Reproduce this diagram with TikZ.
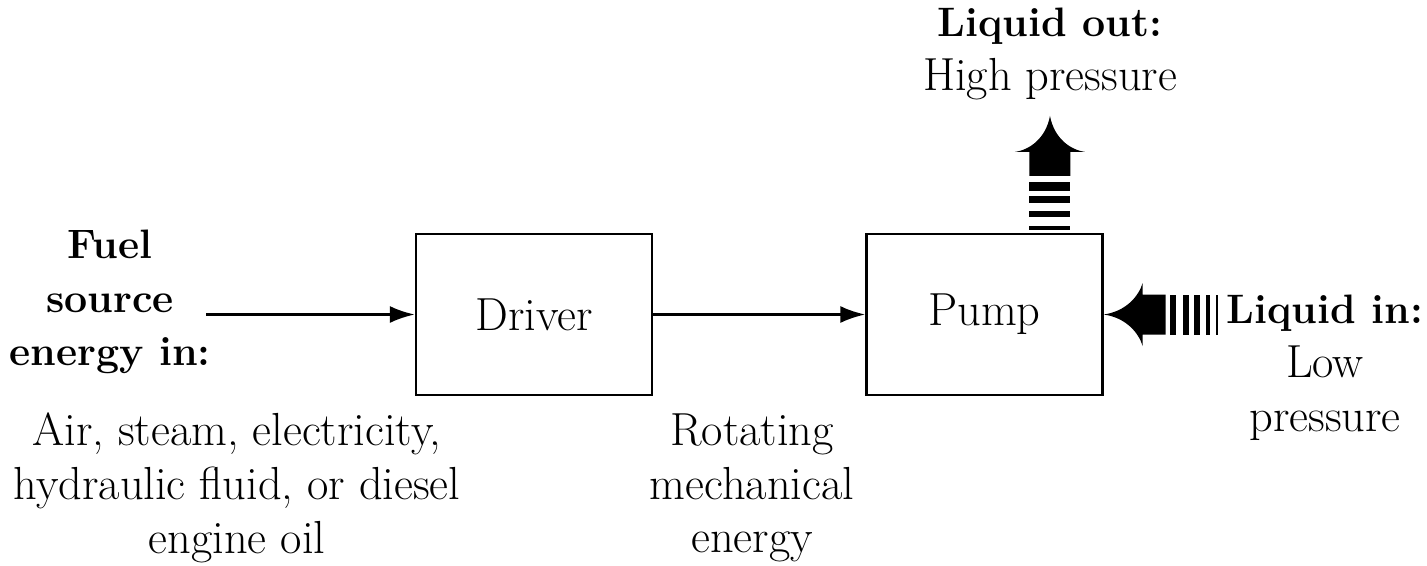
\documentclass[tikz,border=0pt]{standalone}
\usetikzlibrary{arrows.meta}
\begin{document}
\begin{tikzpicture}[x=0.02cm,y=-0.02cm,
  blk/.style={draw, line width=1.3pt, minimum width=4.72cm, minimum height=3.22cm,
    inner sep=0pt, font=\fontsize{26.4}{30.6}\selectfont},
  lbl/.style={align=center, inner sep=0pt, font=\fontsize{26.4}{30.6}\selectfont},
  hd/.style={font=\fontsize{23.4}{30.6}\selectfont\bfseries},
  flow/.style={line width=1.6pt, -{Latex[length=0.5cm,width=0.34cm]}}]
\useasboundingbox (0,0) rectangle (1427,565);

% blocks
\node[blk] (driver) at (534,314.5) {Driver};
\node[blk] (pump) at (984.5,314.5) {Pump};

% energy flow
\coordinate (fuel) at (206,314.5);
\draw[flow] (fuel) -- (driver);
\draw[flow] (driver) -- (pump);

% labels
\node[lbl,hd] (fuellbl) at (110,302) {Fuel\\ source\\ energy in:};
\node[lbl] (srclbl) at (237,488) {Air, steam, electricity,\\ hydraulic fluid, or diesel\\ engine oil};
\node[lbl] (rotlbl) at (752,488) {Rotating\\ mechanical\\ energy};
\node[lbl] (outlbl) at (1050,54) {{\fontsize{23.4}{30.6}\selectfont\bfseries Liquid out:}\\ High pressure};
\node[lbl] (inlbl) at (1325,368) {{\fontsize{23.4}{30.6}\selectfont\bfseries Liquid in:}\\ Low\\ pressure};

% liquid leaving the pump (upward fat arrow)
\coordinate (outbase) at ([xshift=1.31cm]pump.north);
\begin{scope}[shift={(outbase)}]
  \fill (0,-117) .. controls (-4,-95) and (-20,-83) .. (-35,-81)
    -- (-20.5,-81) -- (-20.5,-57) -- (20.5,-57) -- (20.5,-81) -- (35,-81)
    .. controls (20,-83) and (4,-95) .. (0,-117) -- cycle;
  \fill (-20.5,-51) rectangle (20.5,-42);
  \fill (-20.5,-37) rectangle (20.5,-30);
  \fill (-20.5,-22) rectangle (20.5,-16);
  \fill (-20.5,-7) rectangle (20.5,-3);
\end{scope}

% liquid entering the pump (leftward fat arrow)
\coordinate (inbase) at (pump.east);
\begin{scope}[shift={(inbase)}]
  \fill (0,0) .. controls (22,-3) and (35,-18) .. (39,-31.5)
    -- (39,-20) -- (62,-20) -- (62,20) -- (39,20) -- (39,31.5)
    .. controls (35,18) and (22,3) .. (0,0) -- cycle;
  \fill (66,-20) rectangle (72,20);
  \fill (79,-20) rectangle (85,20);
  \fill (90,-20) rectangle (96,20);
  \fill (102,-20) rectangle (106,20);
  \fill (112,-20) rectangle (114,20);
\end{scope}
\end{tikzpicture}
\end{document}
